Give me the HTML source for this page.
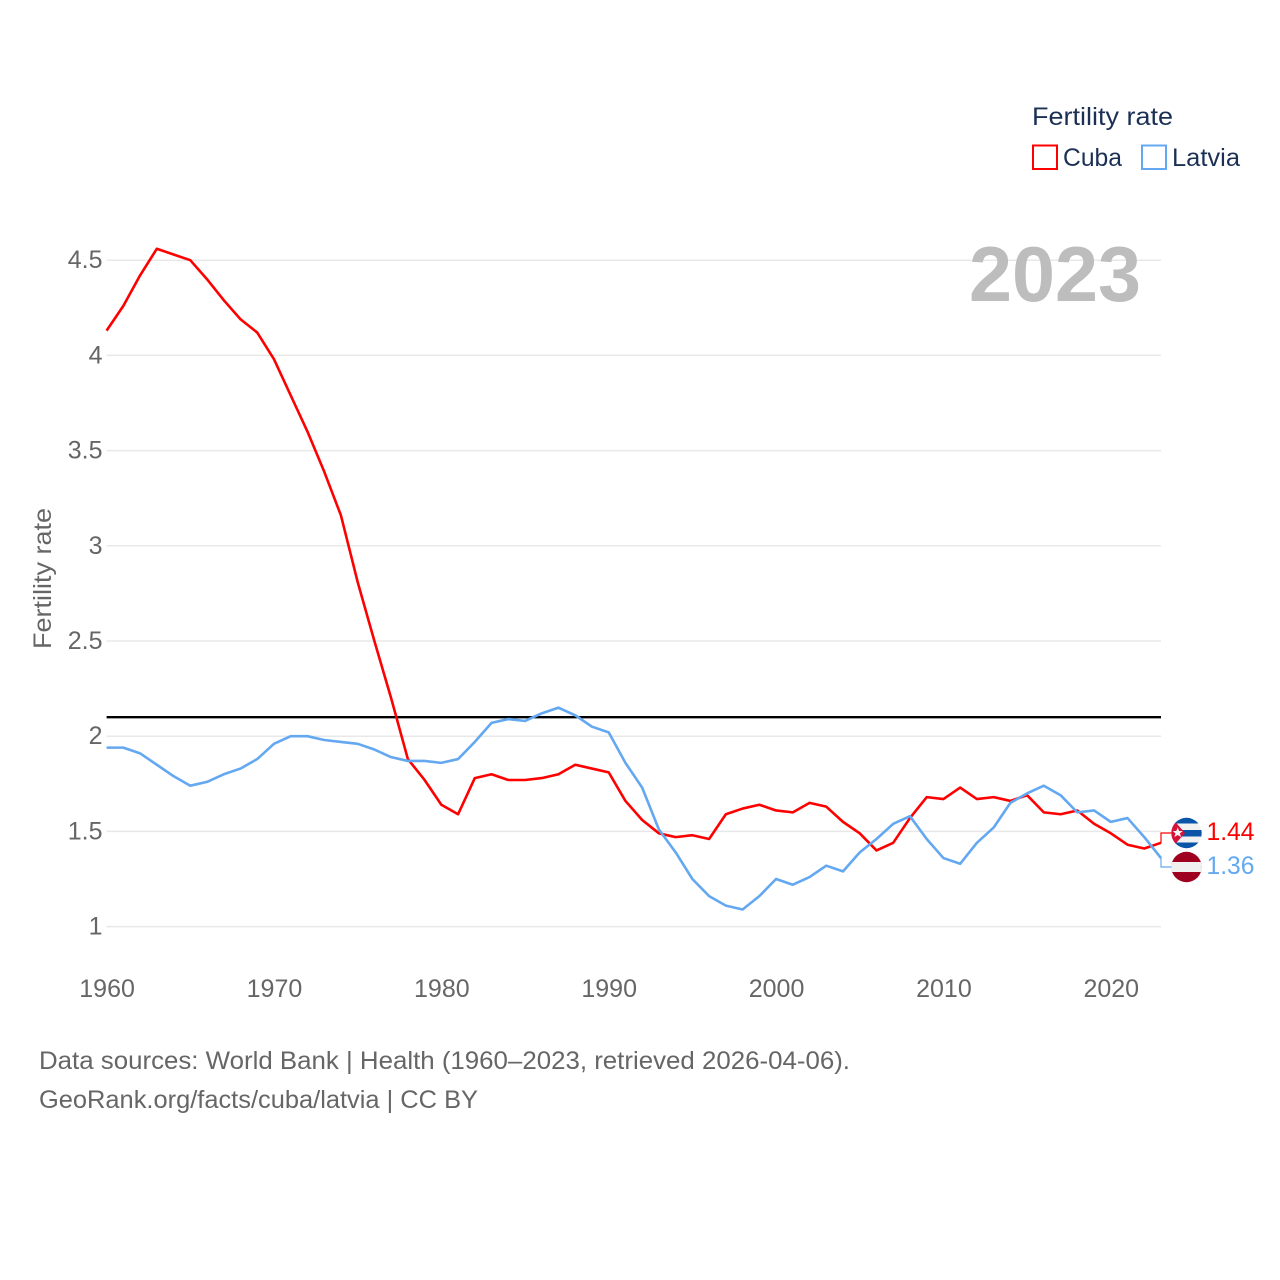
<!DOCTYPE html>
<html lang="en">
<head>
<meta charset="utf-8">
<title>Fertility rate: Cuba and Latvia</title>
<style>
html,body{margin:0;padding:0;background:#fff;}
svg{display:block;font-family:"Liberation Sans",sans-serif;}
</style>
</head>
<body>
<svg id="chart" xmlns="http://www.w3.org/2000/svg" width="1280" height="1280" viewBox="0 0 1280 1280">
  <defs>
    <clipPath id="clip-cuba"><circle cx="1186.5" cy="833" r="15.2"/></clipPath>
    <clipPath id="clip-latvia"><circle cx="1186.5" cy="867" r="15.2"/></clipPath>
  </defs>
  <rect x="0" y="0" width="1280" height="1280" fill="#fff"/>
  <g id="grid"></g>
  <g id="yticks"></g>
  <g id="xticks"></g>
  <text transform="translate(51,578.5) rotate(-90)" text-anchor="middle" font-size="25" fill="#666" textLength="141" lengthAdjust="spacingAndGlyphs">Fertility rate</text>
  <text x="969" y="301" font-size="78" font-weight="700" fill="#bdbdbd" textLength="172" lengthAdjust="spacingAndGlyphs">2023</text>
  <g id="series"></g>
  <g id="labels"></g>

  <g clip-path="url(#clip-cuba)">
    <rect x="1171" y="817" width="31" height="32" fill="#f2f2f2"/>
    <rect x="1171" y="817" width="31" height="6.5" fill="#0a55a8"/>
    <rect x="1171" y="830" width="31" height="6.5" fill="#0a55a8"/>
    <rect x="1171" y="842.5" width="31" height="6.5" fill="#0a55a8"/>
    <polygon points="1171,817 1171,849 1185,833" fill="#d5133a"/>
    <polygon points="1177.7,827.5 1179.1,831 1182.7,831 1179.9,833.4 1181,837 1177.7,835 1174.4,837 1175.5,833.4 1172.7,831 1176.3,831" fill="#f5f5f5"/>
  </g>
  <g clip-path="url(#clip-latvia)">
    <rect x="1171" y="851" width="31" height="32" fill="#a0001f"/>
    <rect x="1171" y="862" width="31" height="10" fill="#f0f0f0"/>
  </g>

  <g>
    <text x="1032" y="125" font-size="25" fill="#1b3054" textLength="141" lengthAdjust="spacingAndGlyphs">Fertility rate</text>
    <rect x="1033" y="145.5" width="24" height="23.5" fill="#fff" stroke="#ff0000" stroke-width="2"/>
    <text x="1063" y="166" font-size="25" fill="#1b3054" textLength="59" lengthAdjust="spacingAndGlyphs">Cuba</text>
    <rect x="1142" y="145.5" width="24" height="23.5" fill="#fff" stroke="#63a8f0" stroke-width="2"/>
    <text x="1172" y="166" font-size="25" fill="#1b3054" textLength="68" lengthAdjust="spacingAndGlyphs">Latvia</text>
  </g>

  <text x="39" y="1069" font-size="25" fill="#666" textLength="811" lengthAdjust="spacingAndGlyphs">Data sources: World Bank | Health (1960–2023, retrieved 2026-04-06).</text>
  <text x="39" y="1108" font-size="25" fill="#666" textLength="439" lengthAdjust="spacingAndGlyphs">GeoRank.org/facts/cuba/latvia | CC BY</text>
</svg>
<script>
const firstYear = 1960;
const cubaValues = [4.13,4.26,4.42,4.56,4.53,4.50,4.40,4.29,4.19,4.12,3.98,3.79,3.60,3.39,3.16,2.81,2.50,2.20,1.88,1.77,1.64,1.59,1.78,1.80,1.77,1.77,1.78,1.80,1.85,1.83,1.81,1.66,1.56,1.49,1.47,1.48,1.46,1.59,1.62,1.64,1.61,1.60,1.65,1.63,1.55,1.49,1.40,1.44,1.57,1.68,1.67,1.73,1.67,1.68,1.66,1.69,1.60,1.59,1.61,1.54,1.49,1.43,1.41,1.44];
const latviaValues = [1.94,1.94,1.91,1.85,1.79,1.74,1.76,1.80,1.83,1.88,1.96,2.00,2.00,1.98,1.97,1.96,1.93,1.89,1.87,1.87,1.86,1.88,1.97,2.07,2.09,2.08,2.12,2.15,2.11,2.05,2.02,1.86,1.73,1.51,1.39,1.25,1.16,1.11,1.09,1.16,1.25,1.22,1.26,1.32,1.29,1.39,1.46,1.54,1.58,1.46,1.36,1.33,1.44,1.52,1.65,1.70,1.74,1.69,1.60,1.61,1.55,1.57,1.47,1.36];
const referenceValue = 2.1;
const yTickValues = [1,1.5,2,2.5,3,3.5,4,4.5];
const yTickLabels = ["1","1.5","2","2.5","3","3.5","4","4.5"];
const xTickValues = [1960,1970,1980,1990,2000,2010,2020];
const xTickLabels = ["1960","1970","1980","1990","2000","2010","2020"];

const NS = "http://www.w3.org/2000/svg";
const plotLeft = 106.6, plotRight = 1161;
function xScale(year){ return plotLeft + (year - 1960) * (plotRight - plotLeft) / 63; }
function yScale(v){ return 926.6 - (v - 1) * 190.4; }
function make(parent, tag, attrs, text){
  const el = document.createElementNS(NS, tag);
  for (const k in attrs) el.setAttribute(k, attrs[k]);
  if (text !== undefined) el.textContent = text;
  parent.appendChild(el);
  return el;
}
function linePath(values){
  return values.map((v,i)=>(i?"L":"M")+xScale(firstYear+i).toFixed(2)+" "+yScale(v).toFixed(2)).join(" ");
}
const grid = document.getElementById("grid");
const yticks = document.getElementById("yticks");
const xticks = document.getElementById("xticks");
const series = document.getElementById("series");
const labels = document.getElementById("labels");

yTickValues.forEach((v,i)=>{
  const g = make(grid,"line",{x1:plotLeft,x2:plotRight,y1:yScale(v),y2:yScale(v),stroke:"#e8e8e8","stroke-width":1.5});
  
  
  const t = make(yticks,"text",{x:102.5,y:yScale(v)+8,"text-anchor":"end","font-size":25,fill:"#666"},yTickLabels[i]);
  
  
});
xTickValues.forEach((v,i)=>{
  const t = make(xticks,"text",{x:xScale(v)+0.5,y:997,"text-anchor":"middle","font-size":25,fill:"#666"},xTickLabels[i]);
  
  
});

const refLine = make(series,"line",{x1:plotLeft,x2:plotRight,y1:yScale(referenceValue),y2:yScale(referenceValue),stroke:"#000","stroke-width":2.4});



const cubaLine = make(series,"path",{d:linePath(cubaValues),fill:"none",stroke:"#ff0000","stroke-width":2.6,"stroke-linejoin":"round"});



const latviaLine = make(series,"path",{d:linePath(latviaValues),fill:"none",stroke:"#63a8f0","stroke-width":2.6,"stroke-linejoin":"round"});



const cubaEnd = yScale(cubaValues[cubaValues.length-1]);
const latviaEnd = yScale(latviaValues[latviaValues.length-1]);
const cubaLeader = make(labels,"path",{d:"M"+plotRight+" "+cubaEnd+" V833 H1172",fill:"none",stroke:"#ff0000","stroke-width":1.2});


const latviaLeader = make(labels,"path",{d:"M"+plotRight+" "+latviaEnd+" V867 H1172",fill:"none",stroke:"#63a8f0","stroke-width":1.2});



const cubaValueLabel = make(labels,"text",{x:1206.5,y:840,"font-size":25,fill:"#ff0000",textLength:48,lengthAdjust:"spacingAndGlyphs"},cubaValues[cubaValues.length-1].toFixed(2));


const latviaValueLabel = make(labels,"text",{x:1206.5,y:874,"font-size":25,fill:"#63a8f0",textLength:48,lengthAdjust:"spacingAndGlyphs"},latviaValues[latviaValues.length-1].toFixed(2));


</script>
</body>
</html>
